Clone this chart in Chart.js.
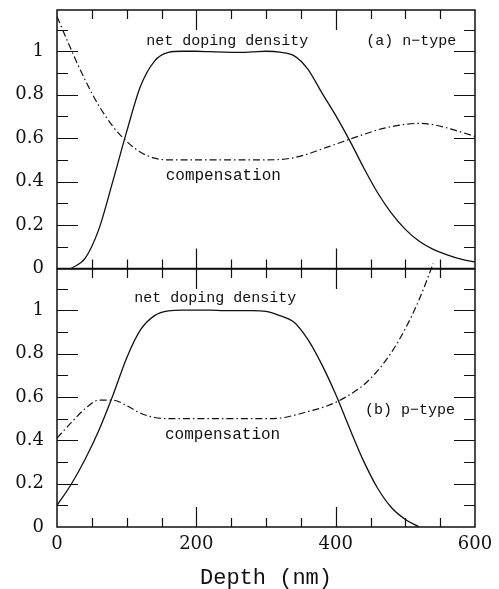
<!DOCTYPE html>
<html>
<head>
<meta charset="utf-8">
<script src="https://cdn.jsdelivr.net/npm/chart.js@4.4.1/dist/chart.umd.min.js"></script>
<style>
  html, body { margin: 0; padding: 0; background: #fff; }
  #wrap { position: relative; width: 499px; height: 589px; overflow: hidden; }
  .panel { position: absolute; left: 0; width: 499px; }
  #topBox { top: 0; height: 280px; }
  #bottomBox { top: 260px; height: 329px; }
</style>
</head>
<body>
<div id="wrap">
  <div class="panel" id="topBox"><canvas id="topPanel"></canvas></div>
  <div class="panel" id="bottomBox"><canvas id="bottomPanel"></canvas></div>
</div>
<script>
// depth grid (nm) shared by all four curves
const depthNm = [0, 20, 40, 60, 80, 100, 120, 140, 160, 180, 200, 220, 240, 260, 280, 300,
                 320, 340, 360, 380, 400, 420, 440, 460, 480, 500, 520, 540, 560, 580, 600];

// (a) n-type
const nDoping = [null, 0, 0.045, 0.18, 0.40, 0.63, 0.84, 0.955, 0.995, 1.0, 1.0, 0.998, 0.996, 0.995, 0.997, 1.0,
                 0.996, 0.98, 0.918, 0.81, 0.705, 0.59, 0.465, 0.35, 0.255, 0.18, 0.125, 0.088, 0.063, 0.043, 0.03];
const nComp   = [1.16, 1.01, 0.87, 0.75, 0.655, 0.585, 0.535, 0.508, 0.50, 0.50, 0.50, 0.50, 0.50, 0.50, 0.50, 0.50,
                 0.502, 0.51, 0.527, 0.55, 0.572, 0.595, 0.617, 0.638, 0.653, 0.664, 0.668, 0.662, 0.647, 0.628, 0.608];

// (b) p-type
const pDoping = [0.10, 0.195, 0.31, 0.445, 0.605, 0.78, 0.91, 0.975, 0.997, 1.0, 1.0, 1.0, 0.998, 0.998, 0.998, 0.995,
                 0.975, 0.945, 0.865, 0.75, 0.612, 0.455, 0.305, 0.18, 0.09, 0.035, 0, null, null, null, null];
const pComp   = [0.41, 0.48, 0.545, 0.585, 0.585, 0.56, 0.525, 0.505, 0.50, 0.50, 0.50, 0.50, 0.50, 0.50, 0.50, 0.50,
                 0.502, 0.515, 0.532, 0.55, 0.575, 0.61, 0.655, 0.72, 0.805, 0.915, 1.05, 1.215, null, null, null];

// axis ticks
const xTickLabels = [0, 200, 400, 600];
const xMinorTicks = [50, 100, 150, 200, 250, 300, 350, 400, 450, 500, 550];
const yTickLabels = [0, 0.2, 0.4, 0.6, 0.8, 1];
const yMinorTicks = [0.1, 0.2, 0.3, 0.4, 0.5, 0.6, 0.7, 0.8, 0.9, 1.0, 1.1];
const yMax = 1.19;

// in-plot text, anchored in data units (left edge, baseline)
const topNotes = [
  { text: 'net doping density', x: 128, y: 1.031, size: 15 },
  { text: '(a) n\u2212type', x: 444, y: 1.028, size: 15 },
  { text: 'compensation', x: 156, y: 0.408, size: 16 }
];
const bottomNotes = [
  { text: 'net doping density', x: 111, y: 1.037, size: 15 },
  { text: 'compensation', x: 155, y: 0.406, size: 16 },
  { text: '(b) p\u2212type', x: 442, y: 0.521, size: 15 }
];

const ink = '#111';
const monoFont = '"Liberation Mono", "DejaVu Sans Mono", monospace';
const serifFont = '"DejaVu Serif", "Liberation Serif", serif';

function points(ys) {
  return depthNm.map((d, i) => ({ x: d, y: ys[i] }));
}

// box frame with inward ticks on all four sides, plus the text notes
const frameTicks = {
  id: 'frameTicks',
  afterDatasetsDraw(chart, args, opts) {
    const ctx = chart.ctx, a = chart.chartArea;
    const xs = chart.scales.x, ys = chart.scales.y;
    ctx.save();
    ctx.strokeStyle = ink;
    ctx.lineWidth = 1.5;
    ctx.strokeRect(a.left, a.top, a.right - a.left, a.bottom - a.top);
    ctx.lineWidth = 1.2;
    ctx.beginPath();
    xMinorTicks.forEach(v => {
      const px = Math.round(xs.getPixelForValue(v)) + 0.5;
      const len = xTickLabels.includes(v) ? 20 : 9;
      ctx.moveTo(px, a.top); ctx.lineTo(px, a.top + len);
      ctx.moveTo(px, a.bottom); ctx.lineTo(px, a.bottom - len);
    });
    yMinorTicks.forEach(v => {
      const py = Math.round(ys.getPixelForValue(v)) + 0.5;
      const major = yTickLabels.some(t => Math.abs(t - v) < 1e-6);
      const len = major ? 21 : 11;
      ctx.moveTo(a.left, py); ctx.lineTo(a.left + len, py);
      ctx.moveTo(a.right, py); ctx.lineTo(a.right - len, py);
    });
    ctx.stroke();

    ctx.fillStyle = ink;
    ctx.textAlign = 'left';
    ctx.textBaseline = 'alphabetic';
    (opts.notes || []).forEach(n => {
      ctx.font = n.size + 'px ' + monoFont;
      ctx.fillText(n.text, xs.getPixelForValue(n.x), ys.getPixelForValue(n.y));
    });
    ctx.restore();
  }
};

function makePanel(id, doping, comp, notes, showX, pad) {
  return new Chart(document.getElementById(id), {
    type: 'line',
    data: {
      datasets: [
        {
          data: points(doping),
          borderColor: ink,
          borderWidth: 1.3,
          pointRadius: 0,
          cubicInterpolationMode: 'monotone'
        },
        {
          data: points(comp),
          borderColor: ink,
          borderWidth: 1.2,
          borderDash: [7, 3, 1.5, 3],
          pointRadius: 0,
          cubicInterpolationMode: 'monotone',
          clip: { left: 0, top: 8, right: 0, bottom: 0 }
        }
      ]
    },
    options: {
      responsive: true,
      maintainAspectRatio: false,
      devicePixelRatio: 1,
      animation: false,
      events: [],
      layout: { padding: pad },
      plugins: {
        legend: { display: false },
        tooltip: { enabled: false },
        frameTicks: { notes: notes }
      },
      scales: {
        x: {
          type: 'linear',
          min: 0,
          max: 600,
          display: showX,
          grid: { display: false, drawTicks: false },
          border: { display: false },
          afterBuildTicks: s => { s.ticks = xTickLabels.map(v => ({ value: v })); },
          afterFit: s => {
            s.height = showX ? 62 : 0;
            s.paddingLeft = 0; s.paddingRight = 0;
          },
          ticks: {
            autoSkip: false,
            maxRotation: 0,
            padding: 7,
            color: ink,
            font: { family: serifFont, size: 18 },
            callback: v => String(v)
          },
          title: {
            display: true,
            text: 'Depth (nm)',
            color: ink,
            font: { family: monoFont, size: 22, lineHeight: 1.0 },
            padding: { top: 0, bottom: 0 }
          }
        },
        y: {
          type: 'linear',
          min: 0,
          max: yMax,
          grid: { display: false, drawTicks: false },
          border: { display: false },
          afterBuildTicks: s => { s.ticks = yTickLabels.map(v => ({ value: v })); },
          afterFit: s => {
            s.width = 57;
            s.paddingTop = 0; s.paddingBottom = 0;
          },
          ticks: {
            padding: 13,
            color: ink,
            font: { family: serifFont, size: 18 },
            callback: v => String(v)
          }
        }
      }
    },
    plugins: [frameTicks]
  });
}

makePanel('topPanel', nDoping, nComp, topNotes, false, { top: 10, right: 24, bottom: 11.5, left: 0 });
makePanel('bottomPanel', pDoping, pComp, bottomNotes, true, { top: 9, right: 24, bottom: 0, left: 0 });
</script>
</body>
</html>
